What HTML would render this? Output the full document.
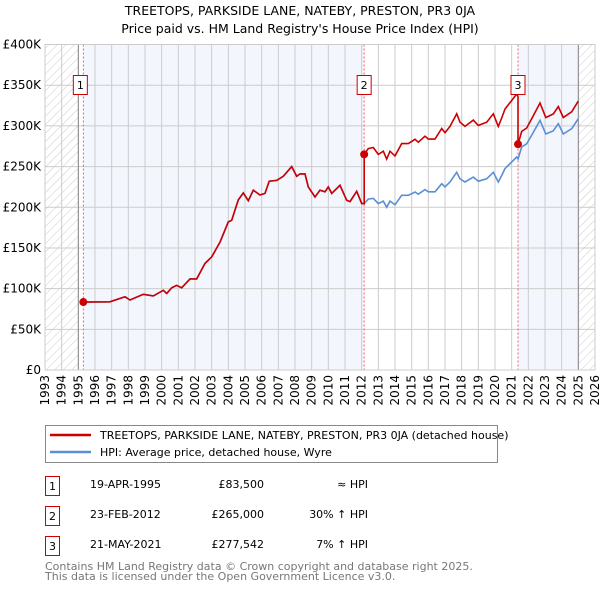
<!DOCTYPE html>
<html><head><meta charset="utf-8"><style>
body{margin:0;background:#fff;font-family:"DejaVu Sans","Liberation Sans",sans-serif}
svg{display:block}
text{font-family:"DejaVu Sans","Liberation Sans",sans-serif}
</style></head><body>
<svg id="c" width="600" height="590" viewBox="0 0 600 590" xmlns="http://www.w3.org/2000/svg">
<defs><pattern id="hatch" width="6" height="6" patternUnits="userSpaceOnUse" patternTransform="rotate(45)"><line x1="0" y1="0" x2="0" y2="6" stroke="#ccc" stroke-width="1"/></pattern></defs>
<text x="300" y="15" text-anchor="middle" font-size="12.5">TREETOPS, PARKSIDE LANE, NATEBY, PRESTON, PR3 0JA</text>
<text x="300" y="33" text-anchor="middle" font-size="12.5">Price paid vs. HM Land Registry's House Price Index (HPI)</text>
<g id="plot"></g>
<g>
<rect x="45.5" y="425.5" width="452" height="37" fill="#fff" stroke="#888"/>
<line x1="50" y1="435" x2="91" y2="435" stroke="#cc0000" stroke-width="2.5"/>
<text x="100" y="439" font-size="11">TREETOPS, PARKSIDE LANE, NATEBY, PRESTON, PR3 0JA (detached house)</text>
<line x1="50" y1="452" x2="91" y2="452" stroke="#5b8fd4" stroke-width="2.5"/>
<text x="100" y="456" font-size="11">HPI: Average price, detached house, Wyre</text>
</g>
<g font-size="11">
<rect x="45.5" y="476.5" width="14" height="19" fill="#fff" stroke="#cc0000"/><text x="52.5" y="490" text-anchor="middle">1</text>
<text x="90" y="488">19-APR-1995</text><text x="264" y="488" text-anchor="end">£83,500</text><text x="368" y="488" text-anchor="end">≈ HPI</text>
<rect x="45.5" y="506.5" width="14" height="19" fill="#fff" stroke="#cc0000"/><text x="52.5" y="520" text-anchor="middle">2</text>
<text x="90" y="518">23-FEB-2012</text><text x="264" y="518" text-anchor="end">£265,000</text><text x="368" y="518" text-anchor="end">30% ↑ HPI</text>
<rect x="45.5" y="536.5" width="14" height="19" fill="#fff" stroke="#cc0000"/><text x="52.5" y="550" text-anchor="middle">3</text>
<text x="90" y="548">21-MAY-2021</text><text x="264" y="548" text-anchor="end">£277,542</text><text x="368" y="548" text-anchor="end">7% ↑ HPI</text>
</g>
<text x="45" y="570" font-size="11" fill="#777">Contains HM Land Registry data © Crown copyright and database right 2025.</text>
<text x="45" y="580" font-size="11" fill="#777">This data is licensed under the Open Government Licence v3.0.</text>
</svg>
<script>
const hpiYears=[1995.3,1996.9,1997.8,1998.1,1998.9,1999.5,2000.1,2000.3,2000.6,2000.9,2001.2,2001.7,2002.1,2002.6,2003.0,2003.5,2004.0,2004.2,2004.6,2004.9,2005.2,2005.5,2005.9,2006.2,2006.45,2006.9,2007.3,2007.8,2008.1,2008.3,2008.6,2008.8,2009.2,2009.5,2009.8,2010.0,2010.2,2010.7,2011.1,2011.3,2011.7,2012.0,2012.15,2012.4,2012.7,2013.0,2013.3,2013.5,2013.7,2014.0,2014.4,2014.8,2015.2,2015.4,2015.8,2016.0,2016.4,2016.8,2017.0,2017.3,2017.7,2017.9,2018.2,2018.7,2019.0,2019.5,2019.9,2020.2,2020.4,2020.6,2021.0,2021.3,2021.38,2021.6,2021.9,2022.3,2022.7,2023.05,2023.5,2023.8,2024.1,2024.6,2025.0];
const hpiValues=[83.5,83.8,90,86,93,91,98,94,101,104,101,112,112,131,139,157,182,184,209,217.6,208,221,215,217,232,233,238,250,238,241,241,225,212.6,221,219,225,217,227,208.6,207,219.6,204.5,204.5,210,211,204.5,207.5,200,207.5,203,214.7,214.7,218.8,216,221.7,219,219,229,225,231,243,235,231,237,232,235,243,231,239,247.5,255.6,261.7,259.4,274,278,292,306.7,290,294,302.7,290,296.5,308.8];
const saleYears=[1995.3,2012.15,2021.38];
const salePrices=[83.5,265,277.542];
const saleLabels=["1","2","3"];
const yTicks=[0,50,100,150,200,250,300,350,400];
const yTickLabels=["£0","£50K","£100K","£150K","£200K","£250K","£300K","£350K","£400K"];

const X0=45,X1=595,Y0=370,Y1=44.5,YR0=1993,YR1=2026,VMAX=400;
const xs=y=>X0+(y-YR0)/(YR1-YR0)*(X1-X0);
const ys=v=>Y0-v/VMAX*(Y0-Y1);
const NS="http://www.w3.org/2000/svg";
const g=document.getElementById('plot');
function mk(t,a){const e=document.createElementNS(NS,t);for(const k in a)e.setAttribute(k,a[k]);g.appendChild(e);return e;}
function hpiAt(t){for(let i=0;i<hpiYears.length-1;i++){if(t<=hpiYears[i+1]){const f=(t-hpiYears[i])/(hpiYears[i+1]-hpiYears[i]);return hpiValues[i]+f*(hpiValues[i+1]-hpiValues[i]);}}return hpiValues[hpiValues.length-1];}

let r=mk('rect',{x:X0,y:Y1,width:X1-X0,height:Y0-Y1,fill:'#fff'});


let h1=mk('rect',{x:X0,y:Y1,width:xs(1995)-X0,height:Y0-Y1,fill:'url(#hatch)'});


let h2=mk('rect',{x:xs(2025),y:Y1,width:X1-xs(2025),height:Y0-Y1,fill:'url(#hatch)'});


let s1=mk('rect',{x:xs(saleYears[0]),y:Y1,width:xs(saleYears[1])-xs(saleYears[0]),height:Y0-Y1,fill:'#f3f6fd'});


let s3=mk('rect',{x:xs(saleYears[2]),y:Y1,width:xs(2025)-xs(saleYears[2]),height:Y0-Y1,fill:'#f3f6fd'});



for(let yr=YR0;yr<=YR1;yr++){
  const x=xs(yr);
  let l=mk('line',{x1:x,x2:x,y1:Y1,y2:Y0,stroke:'#ccc','stroke-width':1});
  
  
  let t=mk('text',{x:x+4,y:Y0+5,'font-size':12,transform:`rotate(-90 ${x+4} ${Y0+5})`,'text-anchor':'end'});
  t.textContent=yr;
  
  
}
yTicks.forEach((v,i)=>{
  const y=ys(v);
  let l=mk('line',{x1:X0,x2:X1,y1:y,y2:y,stroke:'#ccc','stroke-width':1});
  
  
  let t=mk('text',{x:X0-4,y:y+4,'font-size':12,'text-anchor':'end'});
  t.textContent=yTickLabels[i];
  
  
});
let e1=mk('line',{x1:xs(1995),x2:xs(1995),y1:Y1,y2:Y0,stroke:'#888','stroke-width':1});


let e2=mk('line',{x1:xs(2025),x2:xs(2025),y1:Y1,y2:Y0,stroke:'#888','stroke-width':1});



saleYears.forEach((sy,i)=>{
  let l=mk('line',{x1:xs(sy),x2:xs(sy),y1:Y1,y2:Y0,stroke:'#f06060','stroke-width':1,'stroke-dasharray':'2,2'});
  
  
});

let hp=hpiYears.map((t,i)=>`${i?'L':'M'}${xs(t).toFixed(1)},${ys(hpiValues[i]).toFixed(1)}`).join('');
let hl=mk('path',{d:hp,fill:'none',stroke:'#5b8fd4','stroke-width':1.6});



let pd='';
saleYears.forEach((sy,i)=>{
  const end=i<saleYears.length-1?saleYears[i+1]:hpiYears[hpiYears.length-1];
  const ratio=salePrices[i]/hpiAt(sy);
  const pts=[sy].concat(hpiYears.filter(t=>t>sy&&t<end),[end]);
  pts.forEach((t,j)=>{pd+=`${(pd===''?'M':'L')}${xs(t).toFixed(1)},${ys(hpiAt(t)*ratio).toFixed(1)}`;});
  if(i<saleYears.length-1)pd+=`L${xs(saleYears[i+1]).toFixed(1)},${ys(salePrices[i+1]).toFixed(1)}`;
});
let pl=mk('path',{d:pd,fill:'none',stroke:'#cc0000','stroke-width':1.6});



saleYears.forEach((sy,i)=>{
  let c=mk('circle',{cx:xs(sy),cy:ys(salePrices[i]),r:4,fill:'#cc0000'});
  
  
  let b=mk('rect',{x:(i===0?xs(sy)-10:xs(sy)-7),y:75.5,width:14,height:19,fill:'#fff',stroke:'#cc0000'});
  
  
  let t=mk('text',{x:(i===0?xs(sy)-3:xs(sy)),y:89,'font-size':11,'text-anchor':'middle'});
  t.textContent=saleLabels[i];
  
  
});
let fr=mk('rect',{x:X0,y:Y1,width:X1-X0,height:Y0-Y1,fill:'none',stroke:'#ccc'});


</script>
</body></html>
